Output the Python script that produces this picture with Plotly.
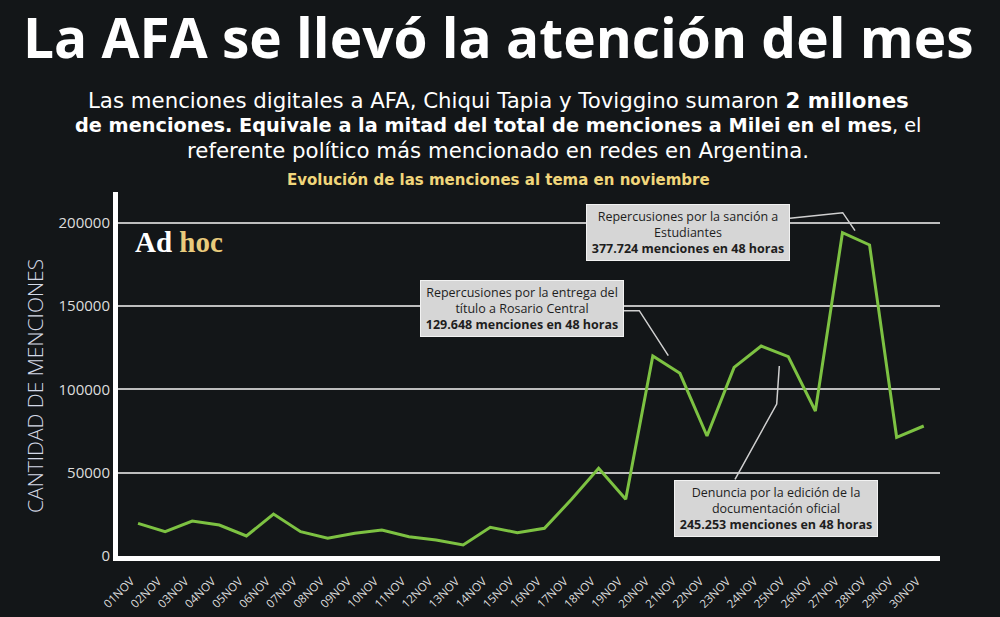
import plotly.graph_objects as go

# Menciones diarias (noviembre)
dias = ["01NOV", "02NOV", "03NOV", "04NOV", "05NOV", "06NOV", "07NOV", "08NOV", "09NOV", "10NOV",
        "11NOV", "12NOV", "13NOV", "14NOV", "15NOV", "16NOV", "17NOV", "18NOV", "19NOV", "20NOV",
        "21NOV", "22NOV", "23NOV", "24NOV", "25NOV", "26NOV", "27NOV", "28NOV", "29NOV", "30NOV"]
menciones = [19600, 14600, 21000, 18600, 12000, 25200, 14600, 10600, 13600, 15600,
             11600, 9600, 6600, 17200, 14000, 16600, 34000, 52600, 34000, 120000,
             109600, 72000, 113200, 126000, 119600, 87000, 194000, 186600, 71200, 78000]
y_ticks = [0, 50000, 100000, 150000, 200000]

BG = "#131618"
GREEN = "#7dc242"
FONT = "Open Sans"
WIDE = "DejaVu Sans"

W, H = 1000, 617
L, R, T, B = 118, 60, 192, 61


def px(x):
    return (x - L) / (W - L - R)


def py(y):
    return (H - B - y) / (H - T - B)


fig = go.Figure()
fig.add_trace(go.Scatter(
    x=dias, y=menciones, mode="lines",
    line=dict(color=GREEN, width=3),
    hoverinfo="x+y", showlegend=False,
))

# (texto, tamaño de fuente)
bajada = [
    ("Las menciones digitales a AFA, Chiqui Tapia y Toviggino sumaron <b>2 millones</b>", 21.3),
    ("<b>de menciones. Equivale a la mitad del total de menciones a Milei en el mes</b>, el", 19.3),
    ("referente político más mencionado en redes en Argentina.", 21.3),
]

annotations = [
    # titulo
    dict(x=px(498), y=py(37), text="<b>La AFA se llevó la atención del mes</b>",
         font=dict(size=55, color="white", family=FONT)),
    dict(x=px(498), y=py(180), text="<b>Evolución de las menciones al tema en noviembre</b>",
         font=dict(size=15, color="#f1d67b", family=WIDE)),
    # titulo eje y
    dict(x=px(35), y=py(386), text="CANTIDAD DE MENCIONES", textangle=-90,
         font=dict(size=21, color="#d3d9e6", family=FONT, weight=300)),
    # logo
    dict(x=px(133), y=py(242), xanchor="left",
         text="Ad <span style='color:#e9cb7c'>hoc</span>",
         font=dict(size=29, color="white", family="Liberation Serif", weight="bold")),
]
for i, (linea, tam) in enumerate(bajada):
    annotations.append(dict(x=px(498), y=py(100 + 25 * i), text=linea,
                            font=dict(size=tam, color="white", family=WIDE)))

boxes = [
    (522, 308.5, "Repercusiones por la entrega del<br>título a Rosario Central<br>"
                 "<b>129.648 menciones en 48 horas</b>"),
    (688, 232.5, "Repercusiones por la sanción a<br>Estudiantes<br>"
                 "<b>377.724 menciones en 48 horas</b>"),
    (776, 508.5, "Denuncia por la edición de la<br>documentación oficial<br>"
                 "<b>245.253 menciones en 48 horas</b>"),
]
for bx, by, txt in boxes:
    annotations.append(dict(
        x=px(bx), y=py(by), text=txt, width=196, height=49,
        bgcolor="#d6d6d6", bordercolor="#f2f2f2", borderwidth=1, borderpad=3,
        font=dict(size=12.5, color="#1e1e1e", family=FONT),
    ))

for a in annotations:
    a.setdefault("xref", "paper")
    a.setdefault("yref", "paper")
    a.setdefault("showarrow", False)
    a.setdefault("xanchor", "center")
    a.setdefault("yanchor", "middle")

conectores = [
    [(624, 310.7), (639.3, 310.7), (668.3, 355.7)],
    [(790, 218.3), (842.7, 212.7), (855, 230.7)],
    [(735, 479.3), (776.7, 404), (779.3, 366)],
]
shapes = []
for pts in conectores:
    path = "M " + " L ".join(f"{px(x):.5f},{py(y):.5f}" for x, y in pts)
    shapes.append(dict(type="path", path=path, xref="paper", yref="paper",
                       line=dict(color="#d0d0d0", width=1.5)))

fig.update_layout(
    width=W, height=H,
    margin=dict(l=L, r=R, t=T, b=B),
    paper_bgcolor=BG, plot_bgcolor=BG,
    annotations=annotations,
    shapes=shapes,
    xaxis=dict(
        type="category", range=[-0.74, 29.6],
        showgrid=False, zeroline=False,
        showline=True, linecolor="white", linewidth=5,
        tickangle=-45, ticks="",
        ticklabelstandoff=9, ticklabelshift=-7,
        tickfont=dict(size=11.5, color="#dddddd", family=FONT),
        automargin=False,
    ),
    yaxis=dict(
        range=[0, 218400],
        tickvals=y_ticks, ticktext=[str(v) for v in y_ticks],
        showgrid=True, gridcolor="#bdbdbd", gridwidth=1.5,
        zeroline=False,
        showline=True, linecolor="white", linewidth=5,
        ticks="",
        tickfont=dict(size=15, color="#dddddd", family=FONT),
        automargin=False,
    ),
)

fig.write_html("out.html", config={"displayModeBar": False},
               post_script="document.body.style.margin='0';")
